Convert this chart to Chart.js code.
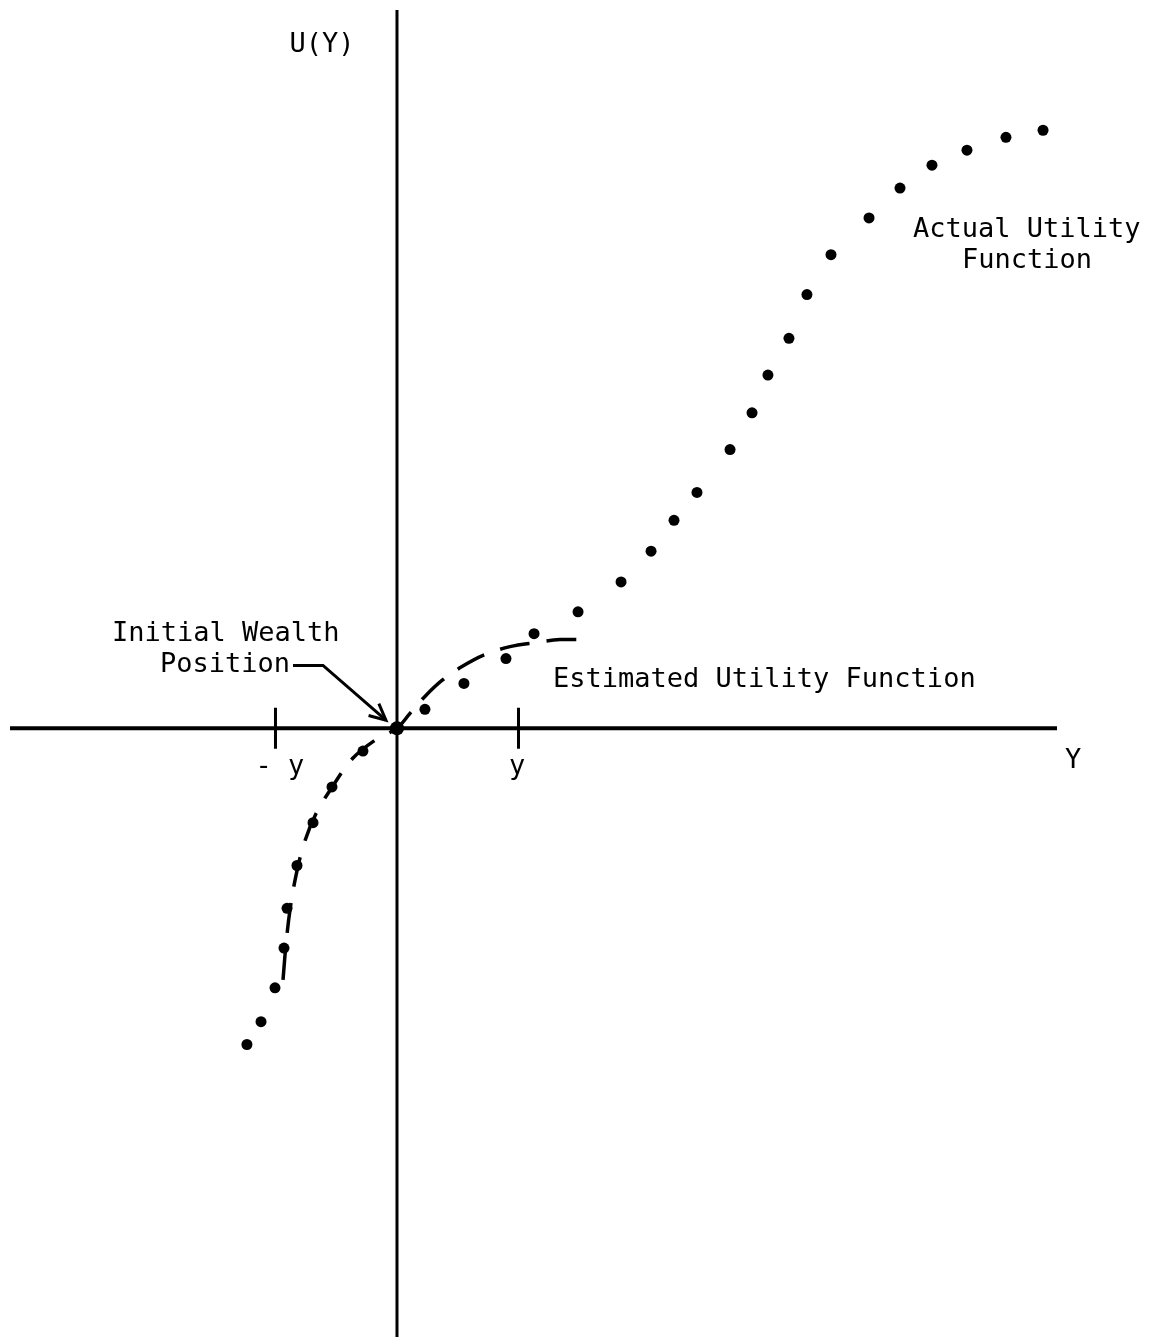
<!DOCTYPE html>
<html>
<head>
<meta charset="utf-8">
<script src="https://cdn.jsdelivr.net/npm/chart.js@4.4.0/dist/chart.umd.min.js"></script>
<style>
  html, body { margin: 0; padding: 0; background: #fff; }
  #wrap { width: 1153px; height: 1337px; }
</style>
</head>
<body>
<div id="wrap"><canvas id="graficoUtilidad"></canvas></div>
<script>
// values in units of "y" (the marked tick), wealth change on X, utility on U(Y)
const actualX = [-1.235, -1.119, -1.004, -0.930, -0.905, -0.823, -0.691, -0.535, -0.280, 0,
  0.230, 0.551, 0.897, 1.128, 1.490, 1.844, 2.091, 2.280, 2.469, 2.741,
  2.922, 3.053, 3.226, 3.374, 3.572, 3.885, 4.140, 4.403, 4.691, 5.012, 5.317]
const actualY = [-2.617, -2.428, -2.148, -1.819, -1.490, -1.136, -0.782, -0.486, -0.189, 0,
  0.156, 0.370, 0.576, 0.782, 0.963, 1.210, 1.465, 1.720, 1.951, 2.305,
  2.609, 2.922, 3.226, 3.588, 3.918, 4.222, 4.469, 4.658, 4.782, 4.889, 4.947]

const estimatedX = [-0.938, -0.914, -0.881, -0.831, -0.765, -0.667, -0.527, -0.370, -0.181, 0,
  0.107, 0.230, 0.370, 0.535, 0.724, 0.930, 1.136, 1.342, 1.539]
const estimatedY = [-2.082, -1.794, -1.506, -1.218, -0.955, -0.708, -0.477, -0.255, -0.099, 0,
  0.123, 0.263, 0.395, 0.510, 0.609, 0.675, 0.708, 0.733, 0.733]

const tickValues = [-1, 1]
const tickLabels = ['- y', 'y']

const xMin = -3.185, xMax = 5.432
const yMin = -4.979, yMax = 5.942

const notes = [
  { text: 'U(Y)', x: -0.617, y: 5.654, align: 'center' },
  { text: tickLabels[0], x: -0.963, y: -0.321, align: 'center' },
  { text: tickLabels[1], x: 0.988, y: -0.321, align: 'center' },
  { text: 'Y', x: 5.564, y: -0.272, align: 'center' },
  { text: 'Initial Wealth', x: -2.346, y: 0.782, align: 'left' },
  { text: 'Position', x: -1.951, y: 0.519, align: 'left' },
  { text: 'Estimated Utility Function', x: 1.284, y: 0.395, align: 'left' },
  { text: 'Actual Utility', x: 4.247, y: 4.123, align: 'left' },
  { text: 'Function', x: 4.650, y: 3.868, align: 'left' }
]
const arrowPath = [[-0.856, 0.519], [-0.609, 0.519], [-0.091, 0.066]]

const toPoints = (xs, ys) => xs.map((x, i) => ({ x: x, y: ys[i] }))

const textos = {
  id: 'textos',
  afterDatasetsDraw(chart) {
    const ctx = chart.ctx
    const sx = chart.scales.x, sy = chart.scales.y
    ctx.save()
    ctx.fillStyle = '#000'
    ctx.font = "27px 'DejaVu Sans Mono'"
    ctx.textBaseline = 'middle'
    notes.forEach((n) => {
      ctx.textAlign = n.align
      ctx.fillText(n.text, sx.getPixelForValue(n.x), sy.getPixelForValue(n.y))
    })
    // arrow to the initial wealth position
    const pts = arrowPath.map((p) => [sx.getPixelForValue(p[0]), sy.getPixelForValue(p[1])])
    ctx.strokeStyle = '#000'
    ctx.lineWidth = 3
    ctx.beginPath()
    ctx.moveTo(pts[0][0], pts[0][1])
    pts.slice(1).forEach((p) => ctx.lineTo(p[0], p[1]))
    ctx.stroke()
    const a = pts[pts.length - 1], b = pts[pts.length - 2]
    const ang = Math.atan2(a[1] - b[1], a[0] - b[0])
    ctx.beginPath()
    ctx.moveTo(a[0] - 18 * Math.cos(ang - 0.45), a[1] - 18 * Math.sin(ang - 0.45))
    ctx.lineTo(a[0], a[1])
    ctx.lineTo(a[0] - 18 * Math.cos(ang + 0.45), a[1] - 18 * Math.sin(ang + 0.45))
    ctx.stroke()
    ctx.restore()
  }
}

const lineSet = (data, width, dash) => ({
  data: data,
  showLine: true,
  borderColor: '#000',
  borderWidth: width,
  borderDash: dash || [],
  pointRadius: 0,
  fill: false,
  clip: false
})

const datasets = [
  lineSet([{ x: xMin, y: 0 }, { x: xMax, y: 0 }], 4),
  lineSet([{ x: 0, y: yMax }, { x: 0, y: yMin - 0.2 }], 3)
]
tickValues.forEach((t) => {
  datasets.push(lineSet([{ x: t, y: 0.17 }, { x: t, y: -0.17 }], 3))
})
datasets.push(Object.assign(lineSet(toPoints(estimatedX, estimatedY), 3.5, [30, 17]), { tension: 0.35 }))
datasets.push({
  data: toPoints(actualX, actualY),
  showLine: false,
  pointRadius: 5.5,
  pointBackgroundColor: '#000',
  pointBorderColor: '#000',
  pointBorderWidth: 0
})
datasets.push({
  data: [{ x: 0, y: 0 }],
  showLine: false,
  pointRadius: 7,
  pointBackgroundColor: '#000',
  pointBorderWidth: 0
})

new Chart(document.getElementById('graficoUtilidad'), {
  type: 'scatter',
  data: { datasets: datasets },
  options: {
    responsive: true,
    maintainAspectRatio: false,
    animation: false,
    layout: { padding: { left: 10, right: 96, top: 10, bottom: 0 } },
    plugins: { legend: { display: false }, tooltip: { enabled: false } },
    scales: {
      x: { type: 'linear', min: xMin, max: xMax, display: false },
      y: { type: 'linear', min: yMin, max: yMax, display: false }
    }
  },
  plugins: [textos]
})
</script>
</body>
</html>
